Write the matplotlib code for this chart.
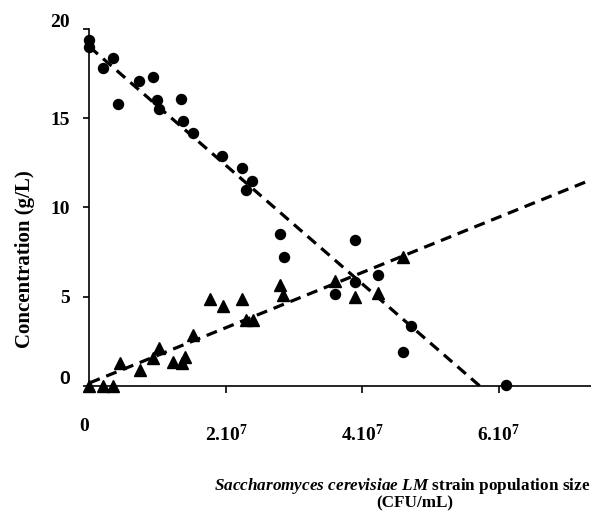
import numpy as np
import matplotlib.pyplot as plt
from matplotlib.transforms import ScaledTranslation

plt.rcParams['font.family'] = ['Liberation Serif', 'DejaVu Serif']
plt.rcParams['font.weight'] = 'bold'
plt.rcParams['mathtext.fontset'] = 'custom'
plt.rcParams['mathtext.rm'] = 'Liberation Serif:bold'
plt.rcParams['mathtext.bf'] = 'Liberation Serif:bold'
plt.rcParams['mathtext.it'] = 'Liberation Serif:italic:bold'
plt.rcParams['lines.scale_dashes'] = False

# sugar (circles), x in CFU/mL, y in g/L
sugar_x = [0.0, 0.0, 0.20e7, 0.34e7, 0.42e7, 0.72e7, 0.93e7, 0.99e7, 1.02e7,
           1.34e7, 1.37e7, 1.52e7, 1.94e7, 2.23e7, 2.29e7, 2.38e7, 2.79e7,
           2.85e7, 3.60e7, 3.89e7, 3.89e7, 4.23e7, 4.71e7, 4.59e7, 6.10e7]
sugar_y = [19.4, 19.0, 17.8, 18.4, 15.8, 17.1, 17.3, 16.0, 15.5,
           16.1, 14.85, 14.2, 12.9, 12.2, 11.0, 11.5, 8.5,
           7.2, 5.15, 8.2, 5.8, 6.2, 3.35, 1.9, 0.05]

# product (triangles)
prod_x = [0.0, 0.20e7, 0.34e7, 0.44e7, 0.74e7, 0.93e7, 1.02e7, 1.22e7, 1.35e7,
          1.40e7, 1.52e7, 1.77e7, 1.95e7, 2.24e7, 2.30e7, 2.40e7, 2.79e7,
          2.84e7, 3.60e7, 3.89e7, 4.23e7, 4.59e7]
prod_y = [0.0, 0.0, 0.0, 1.3, 0.9, 1.55, 2.1, 1.35, 1.3,
          1.6, 2.85, 4.9, 4.5, 4.9, 3.7, 3.7, 5.65,
          5.1, 5.9, 5.0, 5.2, 7.2]

# trend lines (end points)
sugar_fit_x = [0.0, 5.72e7]
sugar_fit_y = [19.0, 0.0]
prod_fit_x = [0.0, 7.35e7]
prod_fit_y = [0.17, 11.55]

xticks = [0, 2e7, 4e7, 6e7]
xticklabels = ['0', r'2.10$^{7}$', r'4.10$^{7}$', r'6.10$^{7}$']
yticks = [0, 5, 10, 15, 20]

fig = plt.figure(figsize=(5.91, 5.23), dpi=100)
ax = fig.add_axes([0.1514, 0.262, 0.8486, 0.6826])

ax.plot(sugar_fit_x, sugar_fit_y, color='k', lw=2.3, dashes=(8, 5))
ax.plot(prod_fit_x, prod_fit_y, color='k', lw=2.3, dashes=(8, 5))
ax.plot(sugar_x, sugar_y, 'o', color='k', ms=7.2, clip_on=False, zorder=3)
ax.plot(prod_x, prod_y, '^', color='k', ms=8, clip_on=False, zorder=3)

ax.set_xlim(0, 7.35e7)
ax.set_ylim(0, 20)
ax.spines['top'].set_visible(False)
ax.spines['right'].set_visible(False)
ax.spines['left'].set_linewidth(1.2)
ax.spines['bottom'].set_linewidth(1.2)

ax.set_xticks(xticks)
ax.set_xticklabels(xticklabels)
ax.set_yticks(yticks)
ax.set_yticklabels([str(v) for v in yticks])
ax.tick_params(axis='x', direction='out', length=5, width=1.2, pad=22, labelsize=14)
ax.tick_params(axis='y', direction='out', length=4, width=1.2, pad=10, labelsize=14)

ylabs = ax.get_yticklabels()
ylabs[0].set_family('Liberation Sans')
for lab in (ylabs[0], ylabs[-1]):
    lab.set_transform(lab.get_transform() + ScaledTranslation(0, 8 / 100, fig.dpi_scale_trans))
xlabs = ax.get_xticklabels()
xlabs[0].set_transform(xlabs[0].get_transform() + ScaledTranslation(-5 / 100, 5 / 100, fig.dpi_scale_trans))

fig.text(402 / 591, 1 - 486 / 523, r'$Saccharomyces\ cerevisiae\ LM$ strain population size',
         ha='center', va='center', fontsize=12.3)
fig.text(415 / 591, 1 - 503 / 523, '(CFU/mL)', ha='center', va='center', fontsize=12.3)
fig.text(25 / 591, 1 - 259 / 523, 'Concentration (g/L)', rotation=90,
         ha='center', va='center', fontsize=15)

fig.savefig('out.png', dpi=100)
